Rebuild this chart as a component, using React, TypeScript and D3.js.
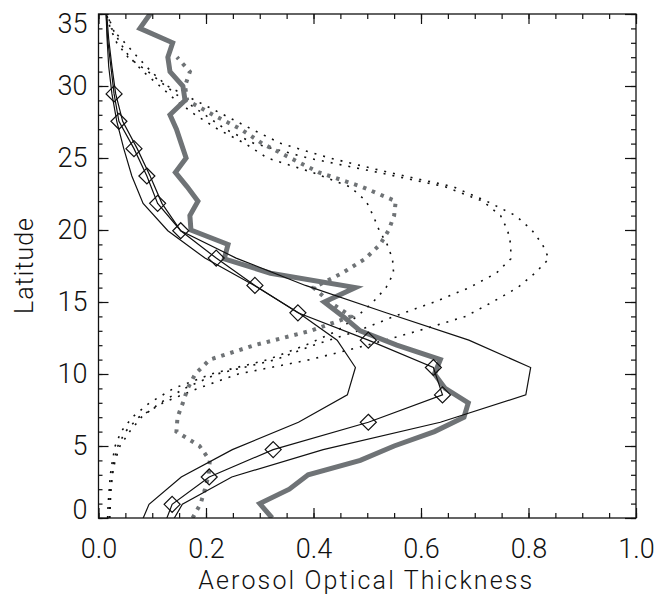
import React, { useRef, useEffect } from 'react';
import * as d3 from 'd3';

// model grid (thin black solid lines, diamonds on the mean)
const latModel = [-0.9, 0.95, 2.85, 4.75, 6.65, 8.55, 10.45, 12.35, 14.25, 16.15, 18.05, 19.95, 21.85, 23.75, 25.65, 27.55, 29.45, 31.35, 33.25, 35.15];
const modelMean = [0.118, 0.137, 0.206, 0.325, 0.502, 0.640, 0.623, 0.502, 0.371, 0.291, 0.219, 0.153, 0.110, 0.090, 0.066, 0.038, 0.029, 0.023, 0.017, 0.014];
const modelLow = [0.073, 0.094, 0.154, 0.249, 0.372, 0.463, 0.478, 0.444, 0.372, 0.290, 0.198, 0.129, 0.083, 0.062, 0.047, 0.034, 0.025, 0.019, 0.016, 0.014];
const modelHigh = [0.127, 0.156, 0.248, 0.418, 0.636, 0.795, 0.804, 0.689, 0.535, 0.385, 0.256, 0.153, 0.118, 0.096, 0.072, 0.045, 0.032, 0.025, 0.019, 0.015];

// observations (thick grey)
const latObs = [0, 1, 2, 3, 4, 5, 6, 7, 8, 9, 10, 11, 12, 13, 14, 15, 16, 17, 18, 19, 20, 21, 22, 23, 24, 25, 26, 27, 28, 29, 30, 31, 32, 33, 34, 35, 36];
const obsSolid = [0.323, 0.300, 0.355, 0.390, 0.487, 0.550, 0.625, 0.680, 0.688, 0.645, 0.625, 0.636, 0.555, 0.487, 0.455, 0.420, 0.478, 0.320, 0.234, 0.241, 0.172, 0.170, 0.185, 0.165, 0.143, 0.163, 0.154, 0.145, 0.133, 0.161, 0.157, 0.133, 0.129, 0.138, 0.077, 0.096, 0.115];
const latObsDot = [0, 1, 2, 3, 4, 5, 6, 7, 8, 9, 10, 11, 12, 13, 14, 15, 16, 17, 18, 19, 20, 21, 22, 23, 24, 25, 26, 27, 28, 29, 30, 31, 32];
const obsDotted = [0.175, 0.190, 0.198, 0.205, 0.207, 0.188, 0.145, 0.147, 0.157, 0.166, 0.180, 0.207, 0.290, 0.395, 0.470, 0.430, 0.400, 0.453, 0.496, 0.524, 0.540, 0.550, 0.553, 0.490, 0.410, 0.357, 0.305, 0.265, 0.213, 0.165, 0.161, 0.170, 0.146];

// thin black dotted lines
const latDot = [0, 1, 2, 3, 4, 5, 6, 7, 8, 9, 10, 11, 12, 13, 14, 15, 16, 17, 18, 19, 20, 21, 22, 23, 24, 25, 26, 27, 28, 29, 30, 31, 32, 33, 34, 35];
const dotInner = [0.017, 0.018, 0.020, 0.022, 0.026, 0.031, 0.042, 0.063, 0.095, 0.140, 0.210, 0.315, 0.385, 0.444, 0.481, 0.511, 0.535, 0.549, 0.547, 0.537, 0.522, 0.511, 0.498, 0.468, 0.398, 0.314, 0.273, 0.222, 0.180, 0.144, 0.114, 0.083, 0.058, 0.040, 0.026, 0.017];
const dotMid = [0.020, 0.021, 0.023, 0.026, 0.031, 0.040, 0.058, 0.080, 0.115, 0.160, 0.220, 0.330, 0.400, 0.483, 0.550, 0.625, 0.690, 0.740, 0.767, 0.767, 0.761, 0.748, 0.715, 0.645, 0.520, 0.390, 0.290, 0.236, 0.198, 0.159, 0.125, 0.092, 0.055, 0.034, 0.022, 0.015];
const dotOuter = [0.021, 0.022, 0.023, 0.025, 0.029, 0.036, 0.050, 0.075, 0.120, 0.185, 0.260, 0.394, 0.500, 0.595, 0.683, 0.733, 0.780, 0.812, 0.838, 0.826, 0.806, 0.776, 0.722, 0.660, 0.540, 0.430, 0.340, 0.285, 0.233, 0.180, 0.128, 0.098, 0.073, 0.049, 0.024, 0.017];

const xTicks = [0, 0.2, 0.4, 0.6, 0.8, 1.0];
const yTicks = [0, 5, 10, 15, 20, 25, 30, 35];

const GREY = '#6f7376';
const FONT = 'Roboto, "DejaVu Sans", sans-serif';

export default function App() {
  const svgRef = useRef<SVGSVGElement>(null);

  useEffect(() => {
    if (!svgRef.current) return;
    const width = 669;
    const height = 596;
    const left = 98.5, right = 636, top = 14, bottom = 518;

    const svg = d3.select(svgRef.current);
    svg.selectAll('*').remove();
    svg.attr('width', width).attr('height', height).attr('viewBox', `0 0 ${width} ${height}`);

    const x = d3.scaleLinear().domain([0, 1]).range([left, right]);
    const y = d3.scaleLinear().domain([0, 35]).range([bottom, top]);

    svg.append('defs').append('clipPath').attr('id', 'plot-clip')
      .append('rect')
      .attr('x', left).attr('y', top)
      .attr('width', right - left).attr('height', bottom - top);

    const plot = svg.append('g').attr('clip-path', 'url(#plot-clip)');

    const line = d3.line<[number, number]>()
      .x(d => x(d[1]))
      .y(d => y(d[0]));

    const pts = (lats: number[], vals: number[]) => lats.map((l, i) => [l, vals[i]] as [number, number]);

    // thin black dotted
    [dotInner, dotMid, dotOuter].forEach(vals => {
      plot.append('path')
        .attr('d', line(pts(latDot, vals)))
        .attr('fill', 'none')
        .attr('stroke', '#111')
        .attr('stroke-width', 1.6)
        .attr('stroke-dasharray', '2,7');
    });

    // grey dotted observations
    plot.append('path')
      .attr('d', line(pts(latObsDot, obsDotted)))
      .attr('fill', 'none')
      .attr('stroke', GREY)
      .attr('stroke-width', 4)
      .attr('stroke-dasharray', '3.5,6');

    // grey solid observations
    plot.append('path')
      .attr('d', line(pts(latObs, obsSolid)))
      .attr('fill', 'none')
      .attr('stroke', GREY)
      .attr('stroke-width', 5)
      .attr('stroke-linejoin', 'miter');

    // model lines
    [modelLow, modelMean, modelHigh].forEach(vals => {
      plot.append('path')
        .attr('d', line(pts(latModel, vals)))
        .attr('fill', 'none')
        .attr('stroke', '#111')
        .attr('stroke-width', 1.2);
    });

    const diamond = 'M0,-8L8,0L0,8L-8,0Z';
    plot.selectAll('path.diamond')
      .data(pts(latModel, modelMean).filter(d => d[0] > 0 && d[0] < 30))
      .join('path')
      .attr('class', 'diamond')
      .attr('d', diamond)
      .attr('transform', d => `translate(${x(d[1])},${y(d[0])})`)
      .attr('fill', 'none')
      .attr('stroke', '#111')
      .attr('stroke-width', 1.2);

    // axes
    const styleAxis = (g: d3.Selection<SVGGElement, unknown, null, undefined>) => {
      g.select('.domain').remove();
      g.selectAll('line').attr('stroke', '#111').attr('stroke-width', 1.2);
      g.selectAll('text')
        .attr('font-family', FONT)
        .attr('font-weight', 300)
        .attr('font-size', 27)
        .attr('fill', '#111');
    };

    const minorY = d3.range(0, 36);
    const minorX = d3.range(0, 1.0001, 0.05);

    svg.append('g').attr('transform', `translate(${left},0)`)
      .call(d3.axisLeft(y).tickValues(minorY).tickSize(-4).tickFormat(() => ''))
      .call(styleAxis);
    const yAx = svg.append('g').attr('transform', `translate(${left},0)`)
      .call(d3.axisLeft(y).tickValues(yTicks).tickSize(-10).tickPadding(11).tickFormat(d3.format('d')))
      .call(styleAxis);
    yAx.selectAll<SVGTextElement, number>('text')
      .attr('dy', d => (d === 0 ? '0.02em' : d === 35 ? '0.69em' : '0.32em'));

    svg.append('g').attr('transform', `translate(${right},0)`)
      .call(d3.axisRight(y).tickValues(minorY).tickSize(-5).tickFormat(() => ''))
      .call(styleAxis);
    svg.append('g').attr('transform', `translate(${right},0)`)
      .call(d3.axisRight(y).tickValues(yTicks).tickSize(-11).tickFormat(() => ''))
      .call(styleAxis);

    svg.append('g').attr('transform', `translate(0,${bottom})`)
      .call(d3.axisBottom(x).tickValues(minorX).tickSize(-5).tickFormat(() => ''))
      .call(styleAxis);
    svg.append('g').attr('transform', `translate(0,${bottom})`)
      .call(d3.axisBottom(x).tickValues(xTicks).tickSize(-10).tickPadding(20.5).tickFormat(d3.format('.1f')))
      .call(styleAxis);

    svg.append('g').attr('transform', `translate(0,${top})`)
      .call(d3.axisTop(x).tickValues(minorX).tickSize(-5).tickFormat(() => ''))
      .call(styleAxis);
    svg.append('g').attr('transform', `translate(0,${top})`)
      .call(d3.axisTop(x).tickValues(xTicks).tickSize(-10).tickFormat(() => ''))
      .call(styleAxis);

    svg.append('rect')
      .attr('x', left).attr('y', top)
      .attr('width', right - left).attr('height', bottom - top)
      .attr('fill', 'none')
      .attr('stroke', '#111')
      .attr('stroke-width', 1.3);

    // axis titles
    svg.append('text')
      .attr('x', (left + right) / 2 - 2)
      .attr('y', 589)
      .attr('text-anchor', 'middle')
      .attr('font-family', FONT)
      .attr('font-weight', 300)
      .attr('font-size', 25)
      .attr('fill', '#111')
      .attr('textLength', 334)
      .attr('lengthAdjust', 'spacing')
      .text('Aerosol Optical Thickness');

    svg.append('text')
      .attr('transform', `translate(33,${(top + bottom) / 2}) rotate(-90)`)
      .attr('text-anchor', 'middle')
      .attr('font-family', FONT)
      .attr('font-weight', 300)
      .attr('font-size', 25)
      .attr('fill', '#111')
      .attr('textLength', 96)
      .attr('lengthAdjust', 'spacing')
      .text('Latitude');
  }, []);

  return (
    <svg ref={svgRef} style={{ position: 'absolute', left: 0, top: 0, background: '#fff' }} />
  );
}
